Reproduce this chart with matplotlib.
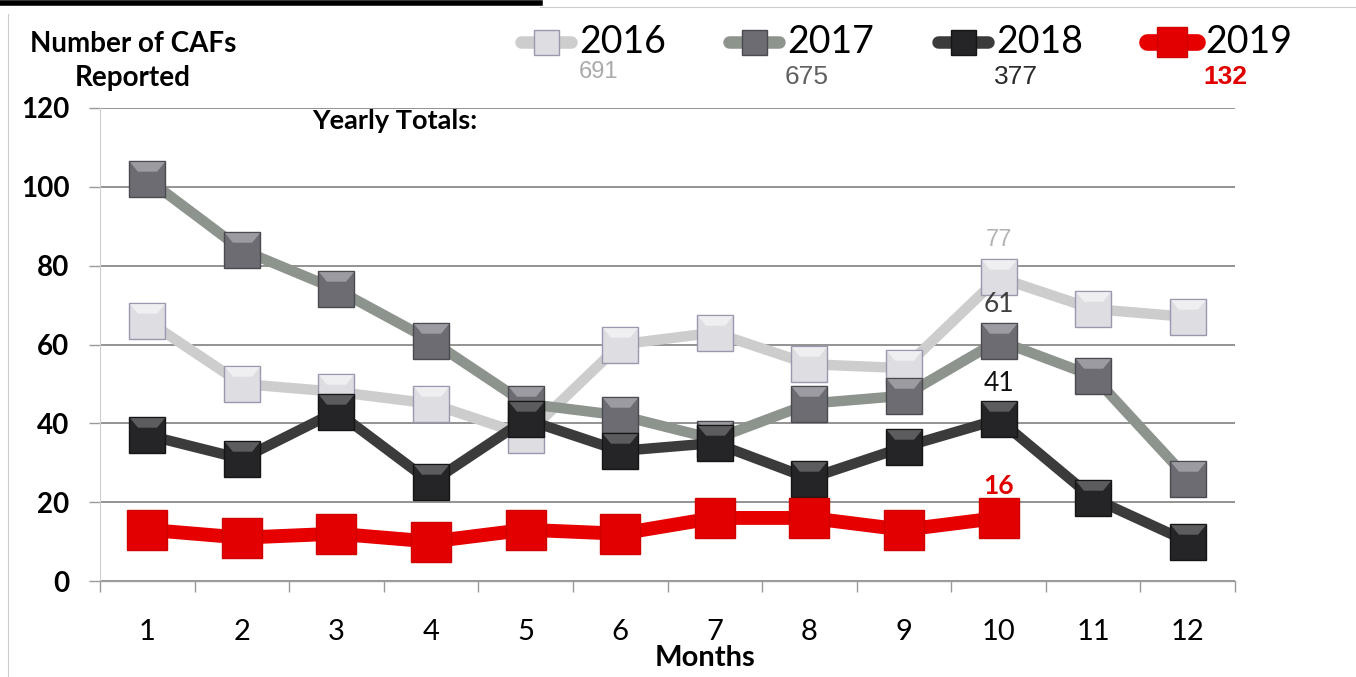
import matplotlib
matplotlib.use("Agg")
import matplotlib.pyplot as plt
from matplotlib.lines import Line2D
from matplotlib.path import Path
import numpy as np

# ---- data ----
months = list(range(1, 13))
years = ["2016", "2017", "2018", "2019"]
totals = [691, 675, 377, 132]
cafs_2016 = [66, 50, 48, 45, 37, 60, 63, 55, 54, 77, 69, 67]
cafs_2017 = [102, 84, 74, 61, 45, 42, 36, 45, 47, 61, 52, 26]
cafs_2018 = [37, 31, 43, 25, 41, 33, 35, 26, 34, 41, 21, 10]
cafs_2019 = [13, 11, 12, 10, 13, 12, 16, 16, 13, 16]
yticks = [0, 20, 40, 60, 80, 100, 120]

series = [cafs_2016, cafs_2017, cafs_2018, cafs_2019]
line_colors = ["#cdcdcd", "#8d938d", "#3b3b3b", "#e60000"]
face_colors = ["#dedde2", "#6c6c72", "#252527", "#e30000"]
edge_colors = ["#9a97ae", "#4a4a50", "#151515", "#d00000"]
hi_colors = ["#f4f4f6", "#a8a8ae", "#6a6a6e", "#e30000"]
lws = [7.5, 7.5, 7.5, 10]
mss = [26, 26, 26, 28.5]
label_colors = ["#b4b4b4", "#404040", "#111111", "#e00000"]
total_colors = ["#aaaaaa", "#606060", "#2a2a2a", "#e00000"]

W, H = 1356, 677
fig = plt.figure(figsize=(W / 100, H / 100), dpi=100)
plt.rcParams["font.family"] = ["Lato", "DejaVu Sans"]


def fx(x):
    return x / W


def fy(y):
    return 1 - y / H


ax = fig.add_axes([fx(100), fy(581), fx(1235) - fx(100), fy(108) - fy(581)])

# bevel highlight path (top trapezoid), scaled same as the square marker
top_path = Path([(-1, 1), (1, 1), (0.55, 0.45), (-0.55, 0.45), (-1, 1)],
                [Path.MOVETO, Path.LINETO, Path.LINETO, Path.LINETO, Path.CLOSEPOLY])

for i, vals in enumerate(series):
    xs = months[:len(vals)]
    ax.plot(xs, vals, color=line_colors[i], lw=lws[i], zorder=3 + i * 2,
            solid_joinstyle="miter")
    ax.plot(xs, vals, ls="none", marker="s", ms=mss[i],
            markerfacecolor=face_colors[i], markeredgecolor=edge_colors[i],
            markeredgewidth=1.0, zorder=4 + i * 2)
    if i < 3:
        ax.plot(xs, vals, ls="none", marker=top_path, ms=mss[i] - 1,
                markerfacecolor=hi_colors[i], markeredgewidth=0, alpha=0.8,
                zorder=4 + i * 2)

# value labels at month 10
lab_offsets = [37, 36, 36, 32]
lab_weights = ["light", "normal", "normal", "bold"]
for i, vals in enumerate(series):
    v = vals[9]
    ax.annotate(str(v), (10, v), xytext=(0, lab_offsets[i]), textcoords="offset pixels",
                ha="center", va="center", fontsize=19 if i else 17, color=label_colors[i],
                fontweight=lab_weights[i], zorder=20,
                family=["Liberation Sans", "DejaVu Sans"] if i == 0 else ["Lato", "DejaVu Sans"])

ax.set_xlim(0.5, 12.5)
ax.set_ylim(0, 120)
ax.set_yticks(yticks)
ax.set_yticklabels([str(t) for t in yticks], fontsize=20, fontweight="bold")
ax.set_xticks(months)
ax.set_xticklabels([str(m) for m in months], fontsize=21)
ax.set_xticks(np.arange(0.5, 13, 1), minor=True)
ax.tick_params(axis="x", which="major", length=0, pad=27)
ax.tick_params(axis="x", which="minor", length=8, color="#999999", width=1)
ax.tick_params(axis="y", which="major", length=8, color="#999999", width=1, pad=14)
for lab in ax.get_yticklabels():
    lab.set_horizontalalignment("right")

ax.grid(axis="y", color="#8a8a8a", lw=1.3, zorder=1)
for sp in ["top", "right"]:
    ax.spines[sp].set_visible(False)
ax.spines["left"].set_color("#cfcfcf")
ax.spines["left"].set_linewidth(0.8)
ax.spines["bottom"].set_color("#a0a0a0")
ax.spines["bottom"].set_linewidth(1.0)
ax.set_axisbelow(True)

fig.text(fx(705), fy(658), "Months", ha="center", va="center", fontsize=21, fontweight="bold")
fig.text(fx(133), fy(44), "Number of CAFs", ha="center", va="center", fontsize=20, fontweight="bold")
fig.text(fx(133), fy(78), "Reported", ha="center", va="center", fontsize=20, fontweight="bold")
fig.text(fx(395), fy(121), "Yearly Totals:", ha="center", va="center", fontsize=19.5, fontweight="bold")

# legend with totals
leg_x0 = [515, 723, 932, 1141]
for i, yr in enumerate(years):
    x0 = leg_x0[i]
    x1 = x0 + 62
    ly = fy(42)
    fig.add_artist(Line2D([fx(x0 + 6), fx(x1 - 6)], [ly, ly], color=line_colors[i],
                          lw=9 if i < 3 else 12, solid_capstyle="round", transform=fig.transFigure))
    fig.add_artist(Line2D([fx((x0 + x1) / 2)], [ly], marker="s", ms=18 if i < 3 else 22,
                          markerfacecolor=face_colors[i], markeredgecolor=edge_colors[i],
                          markeredgewidth=1, transform=fig.transFigure))
    fig.text(fx(x1 + 2), ly, yr, ha="left", va="center", fontsize=27, color="black")
    fig.text(fx(x0 + 84), fy(72 if i == 0 else 77), str(totals[i]), ha="center", va="center",
             fontsize=17 if i == 0 else 19, color=total_colors[i],
             fontweight="bold" if i == 3 else "normal",
             family=["Liberation Sans", "DejaVu Sans"])

# decorative frame pieces
fig.add_artist(Line2D([0, fx(540)], [fy(3), fy(3)], color="black", lw=4, transform=fig.transFigure))
fig.add_artist(Line2D([fx(540), 1], [fy(7), fy(7)], color="#cccccc", lw=0.8, transform=fig.transFigure))
fig.add_artist(Line2D([fx(8), fx(8)], [fy(14), 0], color="#cccccc", lw=0.8, transform=fig.transFigure))

fig.savefig("out.png", dpi=100)
